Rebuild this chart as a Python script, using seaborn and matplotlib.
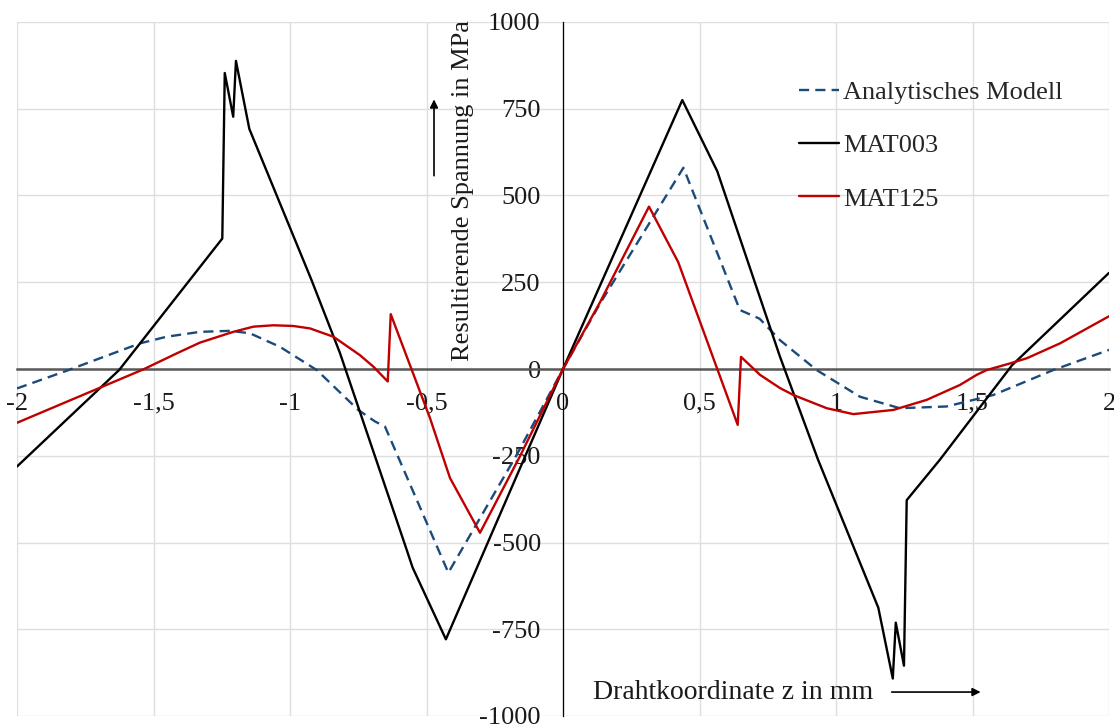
import matplotlib
matplotlib.use("Agg")
import matplotlib.pyplot as plt
import seaborn as sns
import pandas as pd

# Wire coordinate z in mm and resulting stress in MPa for each series
z_model = [-2.0, -1.818, -1.696, -1.549, -1.452, -1.330, -1.220, -1.147, -1.037, -0.902,
           -0.750, -0.689, -0.652, -0.420, -0.170, 0.0, 0.136, 0.441, 0.648, 0.720,
           0.795, 0.929, 1.088, 1.234, 1.405, 1.576, 1.796, 2.0]
s_model = [-56, -5, 31, 74, 93, 107, 110, 103, 64, -3,
           -118, -151, -166, -587, -248, 0, 189, 580, 170, 145,
           83, -3, -80, -113, -108, -75, -3, 55]

z_mat003 = [-2.0, -1.626, -1.248, -1.239, -1.208, -1.198, -1.149, -0.921, -0.817, -0.573,
            -0.551, -0.429, 0.0, 0.437, 0.565, 0.795, 0.934, 1.155, 1.208, 1.219,
            1.249, 1.259, 1.381, 1.645, 2.0]
s_mat003 = [-281, -3, 376, 853, 727, 888, 692, 256, 46, -520,
            -572, -779, 0, 775, 570, 35, -261, -688, -892, -731,
            -855, -378, -261, 11, 277]

z_mat125 = [-2.0, -1.537, -1.415, -1.330, -1.208, -1.134, -1.061, -0.988, -0.927, -0.841,
            -0.744, -0.695, -0.642, -0.631, -0.487, -0.414, -0.304, -0.158, 0.0, 0.136,
            0.315, 0.422, 0.640, 0.652, 0.722, 0.795, 0.844, 0.966, 1.063, 1.210,
            1.332, 1.454, 1.515, 1.552, 1.637, 1.699, 1.821, 2.0]
s_mat125 = [-155, -1, 45, 76, 107, 122, 126, 124, 117, 93,
            40, 7, -36, 158, -142, -314, -472, -252, 0, 193,
            468, 308, -161, 35, -17, -55, -75, -113, -130, -118,
            -89, -46, -17, -3, 16, 31, 74, 152]

series_names = ["Analytisches Modell", "MAT003", "MAT125"]

x_ticks = [-2, -1.5, -1, -0.5, 0, 0.5, 1, 1.5, 2]
x_tick_labels = ["-2", "-1,5", "-1", "-0,5", "0", "0,5", "1", "1,5", "2"]
y_ticks = [-1000, -750, -500, -250, 0, 250, 500, 750, 1000]
y_tick_labels = ["-1000", "-750", "-500", "-250", "0", "250", "500", "750", "1000"]

x_label = "Drahtkoordinate z in mm"
y_label = "Resultierende Spannung in MPa"

sns.set_theme(style="white")
plt.rcParams["font.family"] = ["Liberation Serif", "DejaVu Serif"]
plt.rcParams["font.size"] = 19

df = pd.concat([
    pd.DataFrame({"z": z_model, "sigma": s_model, "Serie": series_names[0]}),
    pd.DataFrame({"z": z_mat003, "sigma": s_mat003, "Serie": series_names[1]}),
    pd.DataFrame({"z": z_mat125, "sigma": s_mat125, "Serie": series_names[2]}),
], ignore_index=True)

fig = plt.figure(figsize=(11.14, 7.25), dpi=100)
ax = fig.add_axes([17 / 1114, 9 / 725, 1092 / 1114, 694 / 725])

palette = {series_names[0]: "#1b4b7a", series_names[1]: "#000000", series_names[2]: "#c00000"}
styles = {series_names[0]: (0, (4.3, 2.6)), series_names[1]: "-", series_names[2]: "-"}

handles = []
for name in series_names:
    sub = df[df["Serie"] == name]
    sns.lineplot(data=sub, x="z", y="sigma", ax=ax, sort=False, estimator=None,
                 color=palette[name], linewidth=1.7, zorder=3, label=name)
    line = ax.get_lines()[-1]
    line.set_linestyle(styles[name])
    handles.append(line)

ax.set_xlim(-2, 2)
ax.set_ylim(-1000, 1000)
ax.set_xticks(x_ticks)
ax.set_xticklabels(x_tick_labels)
ax.set_yticks(y_ticks)
ax.set_yticklabels(y_tick_labels)
ax.set_xlabel("")
ax.set_ylabel("")

ax.grid(True, color="#dedede", linewidth=1.0, zorder=0)
ax.set_axisbelow(True)

for side in ("top", "right"):
    ax.spines[side].set_visible(False)
ax.spines["left"].set_position(("data", 0))
ax.spines["bottom"].set_position(("data", 0))
ax.spines["left"].set_color("black")
ax.spines["left"].set_linewidth(0.9)
ax.spines["bottom"].set_color("#595959")
ax.spines["bottom"].set_linewidth(1.8)
ax.tick_params(axis="both", length=0, labelsize=19, colors="#1a1a1a")
ax.tick_params(axis="x", pad=17)
ax.tick_params(axis="y", pad=16)

# axis titles with direction arrows
ax.text(-0.366, 514, y_label, rotation=90, ha="center", va="center", fontsize=19, color="#1a1a1a")
ax.annotate("", xy=(-0.4725, 785), xytext=(-0.4725, 549),
            arrowprops=dict(arrowstyle="-|>", color="black", lw=1.2, mutation_scale=12))
ax.text(0.11, -931, x_label, ha="left", va="center", fontsize=20, color="#1a1a1a")
ax.annotate("", xy=(1.54, -931), xytext=(1.194, -931),
            arrowprops=dict(arrowstyle="-|>", color="black", lw=1.2, mutation_scale=12))

ax.legend(handles=handles, labels=series_names, loc="center left",
          bbox_to_anchor=(799 / 1114, 1 - 145.5 / 725), bbox_transform=fig.transFigure,
          frameon=False, fontsize=19, handlelength=1.5, handletextpad=0.18,
          labelspacing=1.13, borderpad=0, borderaxespad=0)

fig.savefig("out.png", dpi=100)
